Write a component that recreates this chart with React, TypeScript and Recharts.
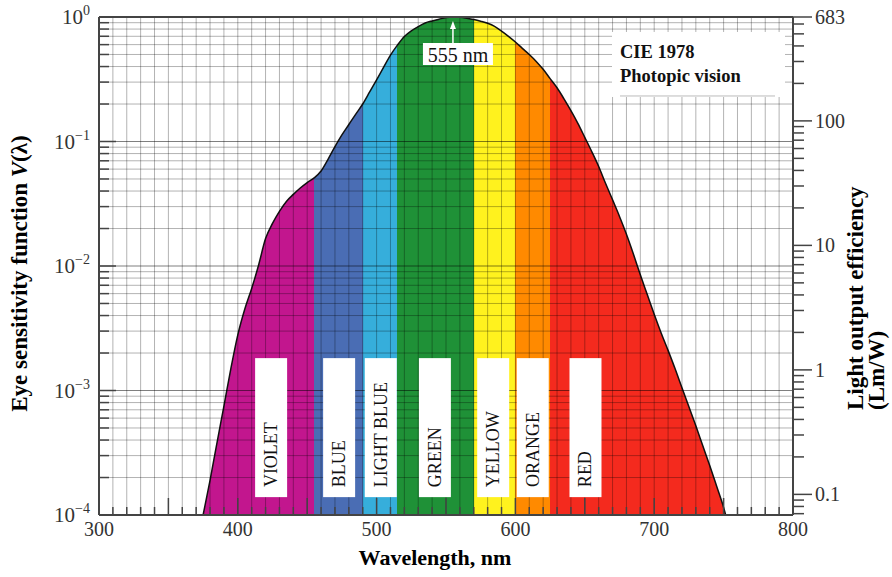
import React from "react";
import { Area, ComposedChart, Label, ReferenceDot, ReferenceLine, XAxis, YAxis } from "recharts";

// V(lambda) curve (nm, relative sensitivity)
const wavelengths = [
  375, 380, 385, 390, 395, 400, 405, 410, 415, 420, 425, 430, 435, 440, 445, 450, 455, 460, 465, 470,
  475, 480, 485, 490, 495, 500, 505, 510, 515, 520, 525, 530, 535, 540, 545, 550, 555, 560, 565, 570,
  575, 580, 585, 590, 595, 600, 605, 610, 615, 620, 625, 630, 635, 640, 645, 650, 655, 660, 665, 670,
  675, 680, 685, 690, 695, 700, 705, 710, 715, 720, 725, 730, 735, 740, 745, 750, 751.5,
];
const sensitivity = [
  0.0001, 0.00019, 0.00038, 0.00075, 0.0015, 0.0028, 0.0045, 0.0066, 0.0102, 0.0166, 0.022, 0.0275, 0.033,
  0.0376, 0.0423, 0.0468, 0.051, 0.058, 0.072, 0.091, 0.113, 0.137, 0.166, 0.2, 0.25, 0.313, 0.394, 0.494,
  0.594, 0.697, 0.774, 0.838, 0.895, 0.93, 0.96, 0.99, 1.0, 0.995, 0.978, 0.955, 0.925, 0.89, 0.84, 0.77,
  0.7, 0.63, 0.56, 0.5, 0.44, 0.38, 0.32, 0.27, 0.22, 0.177, 0.14, 0.108, 0.083, 0.063, 0.046, 0.034, 0.025,
  0.018, 0.0125, 0.0085, 0.0059, 0.0041, 0.0029, 0.0021, 0.0015, 0.00105, 0.00074, 0.00052, 0.00036,
  0.00025, 0.00017, 0.000115, 0.0001,
];

const bandNames = ["VIOLET", "BLUE", "LIGHT BLUE", "GREEN", "YELLOW", "ORANGE", "RED"];
const bandEdges = [375, 455, 490, 515, 570, 600, 625, 751.5];
const bandColors = ["#c2168e", "#4a6db4", "#36aedb", "#1f9137", "#fff21e", "#ff8a00", "#f42a1e"];
const bandLabelAt = [424, 473, 503, 542, 584, 612.5, 650.5];
const bandLabelTop = 0.00182;

const xLabels = [300, 400, 500, 600, 700, 800];
const yDecades = [0.0001, 0.001, 0.01, 0.1, 1];
const yExponents = ["\u22124", "\u22123", "\u22122", "\u22121", "0"];
const rightLabels = [0.1, 1, 10, 100, 683];
const peakWavelength = 555;
const peakText = "555 nm";
const noteLines = ["CIE 1978", "Photopic vision"];
const noteAnchor = { wl: 669.6, v: 0.758 };

const data = wavelengths.map((wl, i) => ({ wl, v: sensitivity[i] }));

const SERIF = "'Liberation Serif', 'Times New Roman', serif";
const AXIS = "#444";
const steps = [1, 2, 3, 4, 5, 6, 7, 8, 9];

const xTicks = Array.from({ length: 51 }, (_, i) => 300 + i * 10);
const yTicks = yDecades
  .slice(0, -1)
  .flatMap((d) => steps.map((k) => Number((k * d).toPrecision(2))))
  .concat([1]);
const rightTicks = [0.07, 0.08, 0.09]
  .concat([0.1, 1, 10].flatMap((d) => steps.map((k) => Number((k * d).toPrecision(2)))))
  .concat([100, 200, 300, 400, 500, 600, 683]);

const first = wavelengths[0];
const span = wavelengths[wavelengths.length - 1] - first;

function BottomTick({ x, y, payload }: any) {
  const v = payload.value;
  const len = v % 50 === 0 ? 17 : 8;
  return (
    <g>
      <line x1={x} x2={x} y1={y} y2={y - len} stroke={AXIS} strokeWidth={1.5} />
      {xLabels.includes(v) && (
        <text x={x} y={y + 21} textAnchor="middle" fontFamily={SERIF} fontSize={20} fill="#333">
          {v}
        </text>
      )}
    </g>
  );
}

function TopTick({ x, y, payload }: any) {
  const len = payload.value % 50 === 0 ? 17 : 8;
  return <line x1={x} x2={x} y1={y} y2={y + len} stroke={AXIS} strokeWidth={1.5} />;
}

function LeftTick({ x, y, payload }: any) {
  const idx = yDecades.indexOf(payload.value);
  const len = idx >= 0 ? 17 : 10;
  return (
    <g>
      <line x1={x} x2={x + len} y1={y} y2={y} stroke={AXIS} strokeWidth={1.5} />
      {idx >= 0 && (
        <text x={x - 9} y={y + 7} textAnchor="end" fontFamily={SERIF} fontSize={21} fill="#333">
          10
          <tspan dy={-9} fontSize={14}>
            {yExponents[idx]}
          </tspan>
        </text>
      )}
    </g>
  );
}

function RightTick({ x, y, payload }: any) {
  const major = rightLabels.includes(payload.value);
  return (
    <g>
      <line x1={x} x2={x + (major ? 19 : 11)} y1={y} y2={y} stroke={AXIS} strokeWidth={1.5} />
      {major && (
        <text x={x + 22} y={y + 7} fontFamily={SERIF} fontSize={20} fill="#333">
          {payload.value}
        </text>
      )}
    </g>
  );
}

function LeftTitle({ viewBox }: any) {
  const tx = viewBox.x - 12;
  const ty = viewBox.y + viewBox.height / 2 + 7.5;
  return (
    <text x={tx} y={ty} transform={`rotate(-90 ${tx} ${ty})`} textAnchor="middle" fontFamily={SERIF} fontWeight="bold" fontSize={23} fill="#000">
      Eye sensitivity function <tspan fontStyle="italic">V</tspan>(λ)
    </text>
  );
}

function RightTitle({ viewBox }: any) {
  const ty = viewBox.y + viewBox.height - 105;
  const a = viewBox.x + 70;
  const b = viewBox.x + 91;
  return (
    <g fontFamily={SERIF} fontWeight="bold" fontSize={23} fill="#000">
      <text x={a} y={ty} transform={`rotate(-90 ${a} ${ty})`}>Light output efficiency</text>
      <text x={b} y={ty} transform={`rotate(-90 ${b} ${ty})`}>(Lm/W)</text>
    </g>
  );
}

function BottomTitle({ viewBox }: any) {
  return (
    <text x={viewBox.x + viewBox.width / 2 - 11} y={viewBox.y + 50} textAnchor="middle" fontFamily={SERIF} fontWeight="bold" fontSize={22} fill="#000">
      Wavelength, nm
    </text>
  );
}

const bandLabel = (name: string) => (p: any) => {
  const w = 32;
  const h = 139;
  const tx = p.cx + 6;
  const ty = p.cy + h - 10;
  return (
    <g>
      <rect x={p.cx - w / 2} y={p.cy} width={w} height={h} fill="#fff" />
      <text x={tx} y={ty} transform={`rotate(-90 ${tx} ${ty})`} fontFamily={SERIF} fontSize={18} fill="#111">
        {name}
      </text>
    </g>
  );
};

const peakLabel = (p: any) => (
  <g>
    <line x1={p.cx} x2={p.cx} y1={p.cy + 26} y2={p.cy + 10} stroke="#fff" strokeWidth={1.5} />
    <path d={`M${p.cx} ${p.cy + 4} L${p.cx - 3} ${p.cy + 12} L${p.cx + 3} ${p.cy + 12} Z`} fill="#fff" />
    <rect x={p.cx - 30} y={p.cy + 26} width={70} height={22} fill="#fff" />
    <text x={p.cx + 5} y={p.cy + 45} textAnchor="middle" fontFamily={SERIF} fontSize={20} fill="#111">
      {peakText}
    </text>
  </g>
);

const noteBox = (p: any) => (
  <g fontFamily={SERIF} fontWeight="bold" fontSize={18.5} fill="#111">
    <rect x={p.cx} y={p.cy} width={173} height={65} fill="#fff" />
    <line x1={p.cx + 8} x2={p.cx + 163} y1={p.cy + 64} y2={p.cy + 64} stroke="#bbb" />
    <text x={p.cx + 8} y={p.cy + 26}>{noteLines[0]}</text>
    <text x={p.cx + 8} y={p.cy + 50}>{noteLines[1]}</text>
  </g>
);

export default function App() {
  return (
    <div style={{ position: "absolute", left: 0, top: 0, background: "#fff" }}>
      <ComposedChart width={892} height={577} data={data} margin={{ top: 16, right: 39, bottom: 22, left: 39 }}>
        <defs>
          <linearGradient id="spectrum" x1="0" y1="0" x2="1" y2="0">
            {bandColors.flatMap((c, i) => [
              <stop key={`a${i}`} offset={(bandEdges[i] - first) / span} stopColor={c} />,
              <stop key={`b${i}`} offset={(bandEdges[i + 1] - first) / span} stopColor={c} />,
            ])}
          </linearGradient>
        </defs>
        <XAxis
          dataKey="wl"
          type="number"
          domain={[300, 800]}
          allowDataOverflow
          ticks={xTicks}
          interval={0}
          height={40}
          tickSize={0}
          tickMargin={0}
          tickLine={false}
          tick={<BottomTick />}
          axisLine={{ stroke: AXIS, strokeWidth: 2 }}
        >
          <Label content={<BottomTitle />} />
        </XAxis>
        <XAxis
          xAxisId="top"
          orientation="top"
          type="number"
          domain={[300, 800]}
          allowDataOverflow
          ticks={xTicks}
          interval={0}
          height={1}
          tickSize={0}
          tickMargin={0}
          tickLine={false}
          tick={<TopTick />}
          axisLine={{ stroke: AXIS, strokeWidth: 2 }}
        />
        <YAxis
          type="number"
          scale="log"
          domain={[0.0001, 1]}
          allowDataOverflow
          ticks={yTicks}
          interval={0}
          width={60}
          tickSize={0}
          tickMargin={0}
          tickLine={false}
          tick={<LeftTick />}
          axisLine={{ stroke: AXIS, strokeWidth: 2 }}
        >
          <Label content={<LeftTitle />} />
        </YAxis>
        <YAxis
          yAxisId="right"
          orientation="right"
          type="number"
          scale="log"
          domain={[0.0683, 683]}
          allowDataOverflow
          ticks={rightTicks}
          interval={0}
          width={60}
          tickSize={0}
          tickMargin={0}
          tickLine={false}
          tick={<RightTick />}
          axisLine={{ stroke: AXIS, strokeWidth: 2 }}
        >
          <Label content={<RightTitle />} />
        </YAxis>
        <Area
          type="monotone"
          dataKey="v"
          baseValue={0.0001}
          stroke="#111"
          strokeWidth={1.5}
          fill="url(#spectrum)"
          fillOpacity={1}
          dot={false}
          activeDot={false}
          isAnimationActive={false}
        />
        {xTicks.slice(1, -1).map((t) => (
          <ReferenceLine key={`vx${t}`} x={t} stroke="rgba(0,0,0,0.3)" strokeWidth={1} zIndex={150} />
        ))}
        {yTicks.slice(1, -1).map((t) => (
          <ReferenceLine
            key={`hy${t}`}
            y={t}
            stroke={yDecades.includes(t) ? "rgba(0,0,0,0.5)" : "rgba(0,0,0,0.3)"}
            strokeWidth={1}
            zIndex={150}
          />
        ))}
        {bandNames.map((n, i) => (
          <ReferenceDot key={n} x={bandLabelAt[i]} y={bandLabelTop} ifOverflow="visible" shape={bandLabel(n)} zIndex={700} />
        ))}
        <ReferenceDot x={peakWavelength} y={1} ifOverflow="visible" shape={peakLabel} zIndex={700} />
        <ReferenceDot x={noteAnchor.wl} y={noteAnchor.v} ifOverflow="visible" shape={noteBox} zIndex={700} />
      </ComposedChart>
    </div>
  );
}
